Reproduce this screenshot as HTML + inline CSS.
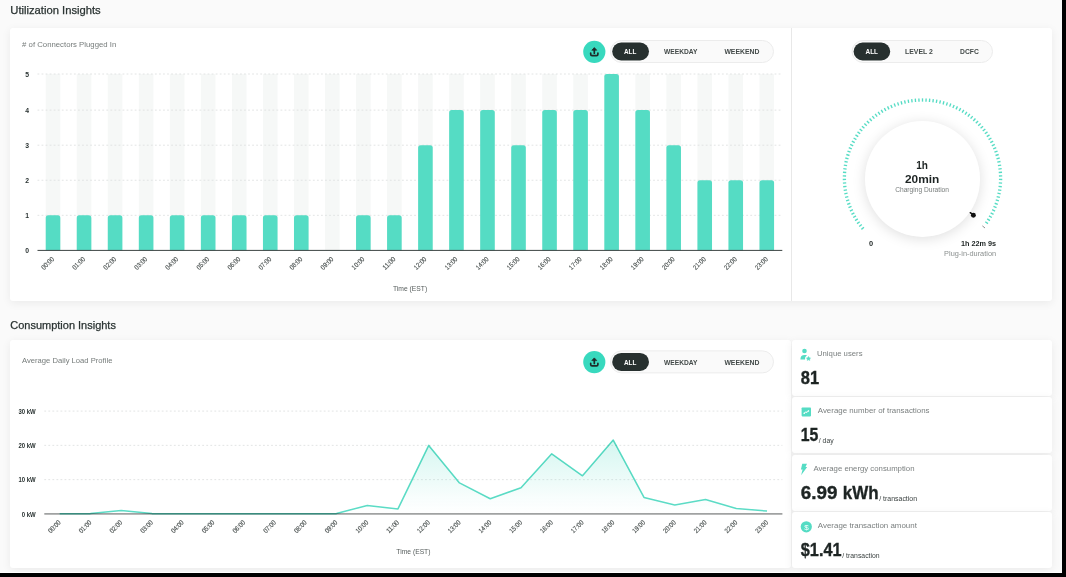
<!DOCTYPE html>
<html><head><meta charset="utf-8"><title>Insights</title>
<style>
html,body{margin:0;padding:0;}
body{width:1066px;height:577px;overflow:hidden;background:#fafafa;position:relative;font-family:"Liberation Sans",sans-serif;}
.card{position:absolute;background:#fff;border-radius:3px;box-shadow:0 2px 10px rgba(0,0,0,0.065);}
.knob{position:absolute;left:864.8px;top:121.3px;width:115.6px;height:115.6px;border-radius:50%;background:#fff;box-shadow:0 2px 13px rgba(0,0,0,0.13);}
svg{position:absolute;left:0;top:0;will-change:transform;}
.bk{position:absolute;background:#000;}
</style></head><body>
<div class="card" style="left:10.3px;top:28.3px;width:1042px;height:272.6px;"></div>
<div class="card" style="left:10.3px;top:339.5px;width:781px;height:228.8px;"></div>
<div class="card" style="left:792.2px;top:339.5px;width:260.2px;height:56.4px;"></div>
<div class="card" style="left:792.2px;top:397.3px;width:260.2px;height:56px;"></div>
<div class="card" style="left:792.2px;top:454.8px;width:260.2px;height:56px;"></div>
<div class="card" style="left:792.2px;top:512.3px;width:260.2px;height:56px;"></div>
<div class="knob"></div>
<svg width="1066" height="577" viewBox="0 0 1066 577" font-family="Liberation Sans, sans-serif">
<defs><linearGradient id="lg" x1="0" y1="440" x2="0" y2="514" gradientUnits="userSpaceOnUse"><stop offset="0" stop-color="#5fdec8" stop-opacity="0.27"/><stop offset="0.75" stop-color="#5fdec8" stop-opacity="0.05"/><stop offset="1" stop-color="#5fdec8" stop-opacity="0"/></linearGradient></defs>
<text x="10.3" y="14" font-size="10.3" fill="#2a3332" font-weight="normal" text-anchor="start" textLength="90.4" lengthAdjust="spacingAndGlyphs" stroke="#2a3332" stroke-width="0.25">Utilization Insights</text>
<text x="10.3" y="329.2" font-size="10.3" fill="#2a3332" font-weight="normal" text-anchor="start" textLength="105.6" lengthAdjust="spacingAndGlyphs" stroke="#2a3332" stroke-width="0.25">Consumption Insights</text>
<text x="22.1" y="47.4" font-size="7" fill="#757b7a" font-weight="normal" text-anchor="start" textLength="94.2" lengthAdjust="spacingAndGlyphs" ># of Connectors Plugged In</text>
<text x="22" y="363.3" font-size="7" fill="#757b7a" font-weight="normal" text-anchor="start" textLength="90.4" lengthAdjust="spacingAndGlyphs" >Average Daily Load Profile</text>
<rect x="610.5" y="40.5" width="163" height="22" rx="11.0" fill="#fafafa" stroke="#ececec" stroke-width="1"/>
<rect x="612.2" y="42.5" width="36.8" height="18" rx="9.0" fill="#27302f"/>
<text x="624" y="54.4" font-size="8" fill="#fff" font-weight="bold" text-anchor="start" textLength="12.4" lengthAdjust="spacingAndGlyphs" >ALL</text>
<text x="664" y="54.4" font-size="8" fill="#434a49" font-weight="bold" text-anchor="start" textLength="33.5" lengthAdjust="spacingAndGlyphs" >WEEKDAY</text>
<text x="724.4" y="54.4" font-size="8" fill="#434a49" font-weight="bold" text-anchor="start" textLength="35.1" lengthAdjust="spacingAndGlyphs" >WEEKEND</text>
<rect x="610.5" y="350.9" width="163" height="22" rx="11.0" fill="#fafafa" stroke="#ececec" stroke-width="1"/>
<rect x="612.2" y="352.9" width="36.8" height="18" rx="9.0" fill="#27302f"/>
<text x="624" y="364.79999999999995" font-size="8" fill="#fff" font-weight="bold" text-anchor="start" textLength="12.4" lengthAdjust="spacingAndGlyphs" >ALL</text>
<text x="664" y="364.79999999999995" font-size="8" fill="#434a49" font-weight="bold" text-anchor="start" textLength="33.5" lengthAdjust="spacingAndGlyphs" >WEEKDAY</text>
<text x="724.4" y="364.79999999999995" font-size="8" fill="#434a49" font-weight="bold" text-anchor="start" textLength="35.1" lengthAdjust="spacingAndGlyphs" >WEEKEND</text>
<rect x="852.0" y="40.5" width="140.5" height="22" rx="11.0" fill="#fafafa" stroke="#ececec" stroke-width="1"/>
<rect x="853.6" y="42.5" width="36.6" height="18" rx="9.0" fill="#27302f"/>
<text x="865.6" y="54.4" font-size="8" fill="#fff" font-weight="bold" text-anchor="start" textLength="12.4" lengthAdjust="spacingAndGlyphs" >ALL</text>
<text x="905" y="54.4" font-size="8" fill="#434a49" font-weight="bold" text-anchor="start" textLength="27.8" lengthAdjust="spacingAndGlyphs" >LEVEL 2</text>
<text x="960" y="54.4" font-size="8" fill="#434a49" font-weight="bold" text-anchor="start" textLength="18.8" lengthAdjust="spacingAndGlyphs" >DCFC</text>
<circle cx="594.3" cy="51.8" r="11.1" fill="#38d9be"/>
<g transform="translate(594.3,51.8)" fill="none" stroke="#1f2a29" stroke-width="1.7" stroke-linecap="round" stroke-linejoin="round"><path d="M-3.6 1.3 V2.4 Q-3.6 3.8 -2.2 3.8 H2.2 Q3.6 3.8 3.6 2.4 V1.3"/><path d="M0 1.4 V-2.2"/><path d="M-2.2 -1.8 L0 -4.2 L2.2 -1.8 Z" fill="#1f2a29" stroke-width="0.8"/></g>
<circle cx="594.3" cy="362.1" r="11.1" fill="#38d9be"/>
<g transform="translate(594.3,362.1)" fill="none" stroke="#1f2a29" stroke-width="1.7" stroke-linecap="round" stroke-linejoin="round"><path d="M-3.6 1.3 V2.4 Q-3.6 3.8 -2.2 3.8 H2.2 Q3.6 3.8 3.6 2.4 V1.3"/><path d="M0 1.4 V-2.2"/><path d="M-2.2 -1.8 L0 -4.2 L2.2 -1.8 Z" fill="#1f2a29" stroke-width="0.8"/></g>
<rect x="45.72" y="74.00" width="14.6" height="176.40" fill="#f6f8f7"/>
<rect x="76.75" y="74.00" width="14.6" height="176.40" fill="#f6f8f7"/>
<rect x="107.78" y="74.00" width="14.6" height="176.40" fill="#f6f8f7"/>
<rect x="138.82" y="74.00" width="14.6" height="176.40" fill="#f6f8f7"/>
<rect x="169.85" y="74.00" width="14.6" height="176.40" fill="#f6f8f7"/>
<rect x="200.88" y="74.00" width="14.6" height="176.40" fill="#f6f8f7"/>
<rect x="231.92" y="74.00" width="14.6" height="176.40" fill="#f6f8f7"/>
<rect x="262.95" y="74.00" width="14.6" height="176.40" fill="#f6f8f7"/>
<rect x="293.98" y="74.00" width="14.6" height="176.40" fill="#f6f8f7"/>
<rect x="325.02" y="74.00" width="14.6" height="176.40" fill="#f6f8f7"/>
<rect x="356.05" y="74.00" width="14.6" height="176.40" fill="#f6f8f7"/>
<rect x="387.08" y="74.00" width="14.6" height="176.40" fill="#f6f8f7"/>
<rect x="418.12" y="74.00" width="14.6" height="176.40" fill="#f6f8f7"/>
<rect x="449.15" y="74.00" width="14.6" height="176.40" fill="#f6f8f7"/>
<rect x="480.18" y="74.00" width="14.6" height="176.40" fill="#f6f8f7"/>
<rect x="511.22" y="74.00" width="14.6" height="176.40" fill="#f6f8f7"/>
<rect x="542.25" y="74.00" width="14.6" height="176.40" fill="#f6f8f7"/>
<rect x="573.28" y="74.00" width="14.6" height="176.40" fill="#f6f8f7"/>
<rect x="604.32" y="74.00" width="14.6" height="176.40" fill="#f6f8f7"/>
<rect x="635.35" y="74.00" width="14.6" height="176.40" fill="#f6f8f7"/>
<rect x="666.38" y="74.00" width="14.6" height="176.40" fill="#f6f8f7"/>
<rect x="697.42" y="74.00" width="14.6" height="176.40" fill="#f6f8f7"/>
<rect x="728.45" y="74.00" width="14.6" height="176.40" fill="#f6f8f7"/>
<rect x="759.48" y="74.00" width="14.6" height="176.40" fill="#f6f8f7"/>
<line x1="37.5" x2="782.3" y1="215.33" y2="215.33" stroke="#dfe1e1" stroke-width="0.9" stroke-dasharray="1.8 2.25"/>
<line x1="37.5" x2="782.3" y1="180.26" y2="180.26" stroke="#dfe1e1" stroke-width="0.9" stroke-dasharray="1.8 2.25"/>
<line x1="37.5" x2="782.3" y1="145.19" y2="145.19" stroke="#dfe1e1" stroke-width="0.9" stroke-dasharray="1.8 2.25"/>
<line x1="37.5" x2="782.3" y1="110.12" y2="110.12" stroke="#dfe1e1" stroke-width="0.9" stroke-dasharray="1.8 2.25"/>
<line x1="37.5" x2="782.3" y1="74.00" y2="74.00" stroke="#dfe1e1" stroke-width="0.9" stroke-dasharray="1.8 2.25"/>
<path d="M45.72 250.4 V217.93 Q45.72 215.33 48.32 215.33 H57.72 Q60.32 215.33 60.32 217.93 V250.4 Z" fill="#55dcc4"/>
<path d="M76.75 250.4 V217.93 Q76.75 215.33 79.35 215.33 H88.75 Q91.35 215.33 91.35 217.93 V250.4 Z" fill="#55dcc4"/>
<path d="M107.78 250.4 V217.93 Q107.78 215.33 110.38 215.33 H119.78 Q122.38 215.33 122.38 217.93 V250.4 Z" fill="#55dcc4"/>
<path d="M138.82 250.4 V217.93 Q138.82 215.33 141.42 215.33 H150.82 Q153.42 215.33 153.42 217.93 V250.4 Z" fill="#55dcc4"/>
<path d="M169.85 250.4 V217.93 Q169.85 215.33 172.45 215.33 H181.85 Q184.45 215.33 184.45 217.93 V250.4 Z" fill="#55dcc4"/>
<path d="M200.88 250.4 V217.93 Q200.88 215.33 203.48 215.33 H212.88 Q215.48 215.33 215.48 217.93 V250.4 Z" fill="#55dcc4"/>
<path d="M231.92 250.4 V217.93 Q231.92 215.33 234.52 215.33 H243.92 Q246.52 215.33 246.52 217.93 V250.4 Z" fill="#55dcc4"/>
<path d="M262.95 250.4 V217.93 Q262.95 215.33 265.55 215.33 H274.95 Q277.55 215.33 277.55 217.93 V250.4 Z" fill="#55dcc4"/>
<path d="M293.98 250.4 V217.93 Q293.98 215.33 296.58 215.33 H305.98 Q308.58 215.33 308.58 217.93 V250.4 Z" fill="#55dcc4"/>
<path d="M356.05 250.4 V217.93 Q356.05 215.33 358.65 215.33 H368.05 Q370.65 215.33 370.65 217.93 V250.4 Z" fill="#55dcc4"/>
<path d="M387.08 250.4 V217.93 Q387.08 215.33 389.68 215.33 H399.08 Q401.68 215.33 401.68 217.93 V250.4 Z" fill="#55dcc4"/>
<path d="M418.12 250.4 V147.79 Q418.12 145.19 420.72 145.19 H430.12 Q432.72 145.19 432.72 147.79 V250.4 Z" fill="#55dcc4"/>
<path d="M449.15 250.4 V112.72 Q449.15 110.12 451.75 110.12 H461.15 Q463.75 110.12 463.75 112.72 V250.4 Z" fill="#55dcc4"/>
<path d="M480.18 250.4 V112.72 Q480.18 110.12 482.78 110.12 H492.18 Q494.78 110.12 494.78 112.72 V250.4 Z" fill="#55dcc4"/>
<path d="M511.22 250.4 V147.79 Q511.22 145.19 513.82 145.19 H523.22 Q525.82 145.19 525.82 147.79 V250.4 Z" fill="#55dcc4"/>
<path d="M542.25 250.4 V112.72 Q542.25 110.12 544.85 110.12 H554.25 Q556.85 110.12 556.85 112.72 V250.4 Z" fill="#55dcc4"/>
<path d="M573.28 250.4 V112.72 Q573.28 110.12 575.88 110.12 H585.28 Q587.88 110.12 587.88 112.72 V250.4 Z" fill="#55dcc4"/>
<path d="M604.32 250.4 V76.60 Q604.32 74.00 606.92 74.00 H616.32 Q618.92 74.00 618.92 76.60 V250.4 Z" fill="#55dcc4"/>
<path d="M635.35 250.4 V112.72 Q635.35 110.12 637.95 110.12 H647.35 Q649.95 110.12 649.95 112.72 V250.4 Z" fill="#55dcc4"/>
<path d="M666.38 250.4 V147.79 Q666.38 145.19 668.98 145.19 H678.38 Q680.98 145.19 680.98 147.79 V250.4 Z" fill="#55dcc4"/>
<path d="M697.42 250.4 V182.86 Q697.42 180.26 700.02 180.26 H709.42 Q712.02 180.26 712.02 182.86 V250.4 Z" fill="#55dcc4"/>
<path d="M728.45 250.4 V182.86 Q728.45 180.26 731.05 180.26 H740.45 Q743.05 180.26 743.05 182.86 V250.4 Z" fill="#55dcc4"/>
<path d="M759.48 250.4 V182.86 Q759.48 180.26 762.08 180.26 H771.48 Q774.08 180.26 774.08 182.86 V250.4 Z" fill="#55dcc4"/>
<line x1="37.5" x2="782.3" y1="250.4" y2="250.4" stroke="#3c4443" stroke-width="1"/>
<text x="25.2" y="253.0" font-size="6.8" fill="#2a3332" font-weight="bold" text-anchor="start" >0</text>
<text x="25.2" y="217.93" font-size="6.8" fill="#2a3332" font-weight="bold" text-anchor="start" >1</text>
<text x="25.2" y="182.86" font-size="6.8" fill="#2a3332" font-weight="bold" text-anchor="start" >2</text>
<text x="25.2" y="147.79" font-size="6.8" fill="#2a3332" font-weight="bold" text-anchor="start" >3</text>
<text x="25.2" y="112.72" font-size="6.8" fill="#2a3332" font-weight="bold" text-anchor="start" >4</text>
<text x="25.2" y="77.4" font-size="6.8" fill="#2a3332" font-weight="bold" text-anchor="start" >5</text>
<text transform="translate(54.52,259.6) rotate(-45)" font-size="6.8" fill="#4a5150" stroke="#4a5150" stroke-width="0.15" text-anchor="end" textLength="14.9" lengthAdjust="spacingAndGlyphs">00:00</text>
<text transform="translate(85.55,259.6) rotate(-45)" font-size="6.8" fill="#4a5150" stroke="#4a5150" stroke-width="0.15" text-anchor="end" textLength="14.9" lengthAdjust="spacingAndGlyphs">01:00</text>
<text transform="translate(116.58,259.6) rotate(-45)" font-size="6.8" fill="#4a5150" stroke="#4a5150" stroke-width="0.15" text-anchor="end" textLength="14.9" lengthAdjust="spacingAndGlyphs">02:00</text>
<text transform="translate(147.62,259.6) rotate(-45)" font-size="6.8" fill="#4a5150" stroke="#4a5150" stroke-width="0.15" text-anchor="end" textLength="14.9" lengthAdjust="spacingAndGlyphs">03:00</text>
<text transform="translate(178.65,259.6) rotate(-45)" font-size="6.8" fill="#4a5150" stroke="#4a5150" stroke-width="0.15" text-anchor="end" textLength="14.9" lengthAdjust="spacingAndGlyphs">04:00</text>
<text transform="translate(209.68,259.6) rotate(-45)" font-size="6.8" fill="#4a5150" stroke="#4a5150" stroke-width="0.15" text-anchor="end" textLength="14.9" lengthAdjust="spacingAndGlyphs">05:00</text>
<text transform="translate(240.72,259.6) rotate(-45)" font-size="6.8" fill="#4a5150" stroke="#4a5150" stroke-width="0.15" text-anchor="end" textLength="14.9" lengthAdjust="spacingAndGlyphs">06:00</text>
<text transform="translate(271.75,259.6) rotate(-45)" font-size="6.8" fill="#4a5150" stroke="#4a5150" stroke-width="0.15" text-anchor="end" textLength="14.9" lengthAdjust="spacingAndGlyphs">07:00</text>
<text transform="translate(302.78,259.6) rotate(-45)" font-size="6.8" fill="#4a5150" stroke="#4a5150" stroke-width="0.15" text-anchor="end" textLength="14.9" lengthAdjust="spacingAndGlyphs">08:00</text>
<text transform="translate(333.82,259.6) rotate(-45)" font-size="6.8" fill="#4a5150" stroke="#4a5150" stroke-width="0.15" text-anchor="end" textLength="14.9" lengthAdjust="spacingAndGlyphs">09:00</text>
<text transform="translate(364.85,259.6) rotate(-45)" font-size="6.8" fill="#4a5150" stroke="#4a5150" stroke-width="0.15" text-anchor="end" textLength="14.9" lengthAdjust="spacingAndGlyphs">10:00</text>
<text transform="translate(395.88,259.6) rotate(-45)" font-size="6.8" fill="#4a5150" stroke="#4a5150" stroke-width="0.15" text-anchor="end" textLength="14.9" lengthAdjust="spacingAndGlyphs">11:00</text>
<text transform="translate(426.92,259.6) rotate(-45)" font-size="6.8" fill="#4a5150" stroke="#4a5150" stroke-width="0.15" text-anchor="end" textLength="14.9" lengthAdjust="spacingAndGlyphs">12:00</text>
<text transform="translate(457.95,259.6) rotate(-45)" font-size="6.8" fill="#4a5150" stroke="#4a5150" stroke-width="0.15" text-anchor="end" textLength="14.9" lengthAdjust="spacingAndGlyphs">13:00</text>
<text transform="translate(488.98,259.6) rotate(-45)" font-size="6.8" fill="#4a5150" stroke="#4a5150" stroke-width="0.15" text-anchor="end" textLength="14.9" lengthAdjust="spacingAndGlyphs">14:00</text>
<text transform="translate(520.02,259.6) rotate(-45)" font-size="6.8" fill="#4a5150" stroke="#4a5150" stroke-width="0.15" text-anchor="end" textLength="14.9" lengthAdjust="spacingAndGlyphs">15:00</text>
<text transform="translate(551.05,259.6) rotate(-45)" font-size="6.8" fill="#4a5150" stroke="#4a5150" stroke-width="0.15" text-anchor="end" textLength="14.9" lengthAdjust="spacingAndGlyphs">16:00</text>
<text transform="translate(582.08,259.6) rotate(-45)" font-size="6.8" fill="#4a5150" stroke="#4a5150" stroke-width="0.15" text-anchor="end" textLength="14.9" lengthAdjust="spacingAndGlyphs">17:00</text>
<text transform="translate(613.12,259.6) rotate(-45)" font-size="6.8" fill="#4a5150" stroke="#4a5150" stroke-width="0.15" text-anchor="end" textLength="14.9" lengthAdjust="spacingAndGlyphs">18:00</text>
<text transform="translate(644.15,259.6) rotate(-45)" font-size="6.8" fill="#4a5150" stroke="#4a5150" stroke-width="0.15" text-anchor="end" textLength="14.9" lengthAdjust="spacingAndGlyphs">19:00</text>
<text transform="translate(675.18,259.6) rotate(-45)" font-size="6.8" fill="#4a5150" stroke="#4a5150" stroke-width="0.15" text-anchor="end" textLength="14.9" lengthAdjust="spacingAndGlyphs">20:00</text>
<text transform="translate(706.22,259.6) rotate(-45)" font-size="6.8" fill="#4a5150" stroke="#4a5150" stroke-width="0.15" text-anchor="end" textLength="14.9" lengthAdjust="spacingAndGlyphs">21:00</text>
<text transform="translate(737.25,259.6) rotate(-45)" font-size="6.8" fill="#4a5150" stroke="#4a5150" stroke-width="0.15" text-anchor="end" textLength="14.9" lengthAdjust="spacingAndGlyphs">22:00</text>
<text transform="translate(768.28,259.6) rotate(-45)" font-size="6.8" fill="#4a5150" stroke="#4a5150" stroke-width="0.15" text-anchor="end" textLength="14.9" lengthAdjust="spacingAndGlyphs">23:00</text>
<text x="393" y="290.5" font-size="7" fill="#565d5c" font-weight="normal" text-anchor="start" textLength="34.2" lengthAdjust="spacingAndGlyphs" >Time (EST)</text>
<line x1="791.5" x2="791.5" y1="28" y2="301" stroke="#e8e8e8" stroke-width="1"/>
<line x1="863.94" y1="227.24" x2="861.41" y2="229.36" stroke="#55dcc4" stroke-width="1.35"/>
<line x1="861.77" y1="224.53" x2="859.15" y2="226.54" stroke="#55dcc4" stroke-width="1.35"/>
<line x1="859.72" y1="221.73" x2="857.01" y2="223.61" stroke="#55dcc4" stroke-width="1.35"/>
<line x1="857.81" y1="218.84" x2="855.02" y2="220.60" stroke="#55dcc4" stroke-width="1.35"/>
<line x1="856.03" y1="215.86" x2="853.16" y2="217.49" stroke="#55dcc4" stroke-width="1.35"/>
<line x1="854.38" y1="212.81" x2="851.44" y2="214.31" stroke="#55dcc4" stroke-width="1.35"/>
<line x1="852.88" y1="209.68" x2="849.87" y2="211.05" stroke="#55dcc4" stroke-width="1.35"/>
<line x1="851.52" y1="206.49" x2="848.45" y2="207.72" stroke="#55dcc4" stroke-width="1.35"/>
<line x1="850.30" y1="203.24" x2="847.19" y2="204.33" stroke="#55dcc4" stroke-width="1.35"/>
<line x1="849.24" y1="199.94" x2="846.07" y2="200.88" stroke="#55dcc4" stroke-width="1.35"/>
<line x1="848.32" y1="196.59" x2="845.12" y2="197.39" stroke="#55dcc4" stroke-width="1.35"/>
<line x1="847.56" y1="193.21" x2="844.32" y2="193.86" stroke="#55dcc4" stroke-width="1.35"/>
<line x1="846.95" y1="189.80" x2="843.69" y2="190.30" stroke="#55dcc4" stroke-width="1.35"/>
<line x1="846.50" y1="186.36" x2="843.22" y2="186.71" stroke="#55dcc4" stroke-width="1.35"/>
<line x1="846.20" y1="182.90" x2="842.91" y2="183.11" stroke="#55dcc4" stroke-width="1.35"/>
<line x1="846.06" y1="179.43" x2="842.76" y2="179.49" stroke="#55dcc4" stroke-width="1.35"/>
<line x1="846.08" y1="175.97" x2="842.78" y2="175.87" stroke="#55dcc4" stroke-width="1.35"/>
<line x1="846.26" y1="172.50" x2="842.96" y2="172.26" stroke="#55dcc4" stroke-width="1.35"/>
<line x1="846.59" y1="169.05" x2="843.31" y2="168.66" stroke="#55dcc4" stroke-width="1.35"/>
<line x1="847.08" y1="165.61" x2="843.82" y2="165.07" stroke="#55dcc4" stroke-width="1.35"/>
<line x1="847.72" y1="162.21" x2="844.49" y2="161.52" stroke="#55dcc4" stroke-width="1.35"/>
<line x1="848.52" y1="158.83" x2="845.33" y2="158.00" stroke="#55dcc4" stroke-width="1.35"/>
<line x1="849.47" y1="155.49" x2="846.32" y2="154.52" stroke="#55dcc4" stroke-width="1.35"/>
<line x1="850.57" y1="152.20" x2="847.46" y2="151.09" stroke="#55dcc4" stroke-width="1.35"/>
<line x1="851.82" y1="148.97" x2="848.77" y2="147.71" stroke="#55dcc4" stroke-width="1.35"/>
<line x1="853.21" y1="145.79" x2="850.22" y2="144.40" stroke="#55dcc4" stroke-width="1.35"/>
<line x1="854.75" y1="142.68" x2="851.83" y2="141.15" stroke="#55dcc4" stroke-width="1.35"/>
<line x1="856.43" y1="139.64" x2="853.57" y2="137.98" stroke="#55dcc4" stroke-width="1.35"/>
<line x1="858.24" y1="136.69" x2="855.46" y2="134.90" stroke="#55dcc4" stroke-width="1.35"/>
<line x1="860.18" y1="133.81" x2="857.49" y2="131.90" stroke="#55dcc4" stroke-width="1.35"/>
<line x1="862.26" y1="131.03" x2="859.66" y2="129.00" stroke="#55dcc4" stroke-width="1.35"/>
<line x1="864.45" y1="128.35" x2="861.95" y2="126.20" stroke="#55dcc4" stroke-width="1.35"/>
<line x1="866.77" y1="125.77" x2="864.36" y2="123.51" stroke="#55dcc4" stroke-width="1.35"/>
<line x1="869.20" y1="123.29" x2="866.90" y2="120.93" stroke="#55dcc4" stroke-width="1.35"/>
<line x1="871.74" y1="120.93" x2="869.55" y2="118.46" stroke="#55dcc4" stroke-width="1.35"/>
<line x1="874.39" y1="118.69" x2="872.31" y2="116.12" stroke="#55dcc4" stroke-width="1.35"/>
<line x1="877.13" y1="116.57" x2="875.17" y2="113.91" stroke="#55dcc4" stroke-width="1.35"/>
<line x1="879.97" y1="114.57" x2="878.14" y2="111.83" stroke="#55dcc4" stroke-width="1.35"/>
<line x1="882.90" y1="112.71" x2="881.19" y2="109.88" stroke="#55dcc4" stroke-width="1.35"/>
<line x1="885.90" y1="110.98" x2="884.32" y2="108.08" stroke="#55dcc4" stroke-width="1.35"/>
<line x1="888.99" y1="109.39" x2="887.54" y2="106.42" stroke="#55dcc4" stroke-width="1.35"/>
<line x1="892.14" y1="107.94" x2="890.83" y2="104.91" stroke="#55dcc4" stroke-width="1.35"/>
<line x1="895.35" y1="106.63" x2="894.18" y2="103.55" stroke="#55dcc4" stroke-width="1.35"/>
<line x1="898.62" y1="105.47" x2="897.59" y2="102.34" stroke="#55dcc4" stroke-width="1.35"/>
<line x1="901.94" y1="104.47" x2="901.05" y2="101.29" stroke="#55dcc4" stroke-width="1.35"/>
<line x1="905.30" y1="103.61" x2="904.56" y2="100.39" stroke="#55dcc4" stroke-width="1.35"/>
<line x1="908.70" y1="102.91" x2="908.10" y2="99.66" stroke="#55dcc4" stroke-width="1.35"/>
<line x1="912.12" y1="102.36" x2="911.68" y2="99.09" stroke="#55dcc4" stroke-width="1.35"/>
<line x1="915.57" y1="101.96" x2="915.27" y2="98.68" stroke="#55dcc4" stroke-width="1.35"/>
<line x1="919.03" y1="101.73" x2="918.88" y2="98.43" stroke="#55dcc4" stroke-width="1.35"/>
<line x1="922.50" y1="101.65" x2="922.50" y2="98.35" stroke="#55dcc4" stroke-width="1.35"/>
<line x1="925.97" y1="101.73" x2="926.12" y2="98.43" stroke="#55dcc4" stroke-width="1.35"/>
<line x1="929.43" y1="101.96" x2="929.73" y2="98.68" stroke="#55dcc4" stroke-width="1.35"/>
<line x1="932.88" y1="102.36" x2="933.32" y2="99.09" stroke="#55dcc4" stroke-width="1.35"/>
<line x1="936.30" y1="102.91" x2="936.90" y2="99.66" stroke="#55dcc4" stroke-width="1.35"/>
<line x1="939.70" y1="103.61" x2="940.44" y2="100.39" stroke="#55dcc4" stroke-width="1.35"/>
<line x1="943.06" y1="104.47" x2="943.95" y2="101.29" stroke="#55dcc4" stroke-width="1.35"/>
<line x1="946.38" y1="105.47" x2="947.41" y2="102.34" stroke="#55dcc4" stroke-width="1.35"/>
<line x1="949.65" y1="106.63" x2="950.82" y2="103.55" stroke="#55dcc4" stroke-width="1.35"/>
<line x1="952.86" y1="107.94" x2="954.17" y2="104.91" stroke="#55dcc4" stroke-width="1.35"/>
<line x1="956.01" y1="109.39" x2="957.46" y2="106.42" stroke="#55dcc4" stroke-width="1.35"/>
<line x1="959.10" y1="110.98" x2="960.68" y2="108.08" stroke="#55dcc4" stroke-width="1.35"/>
<line x1="962.10" y1="112.71" x2="963.81" y2="109.88" stroke="#55dcc4" stroke-width="1.35"/>
<line x1="965.03" y1="114.57" x2="966.86" y2="111.83" stroke="#55dcc4" stroke-width="1.35"/>
<line x1="967.87" y1="116.57" x2="969.83" y2="113.91" stroke="#55dcc4" stroke-width="1.35"/>
<line x1="970.61" y1="118.69" x2="972.69" y2="116.12" stroke="#55dcc4" stroke-width="1.35"/>
<line x1="973.26" y1="120.93" x2="975.45" y2="118.46" stroke="#55dcc4" stroke-width="1.35"/>
<line x1="975.80" y1="123.29" x2="978.10" y2="120.93" stroke="#55dcc4" stroke-width="1.35"/>
<line x1="978.23" y1="125.77" x2="980.64" y2="123.51" stroke="#55dcc4" stroke-width="1.35"/>
<line x1="980.55" y1="128.35" x2="983.05" y2="126.20" stroke="#55dcc4" stroke-width="1.35"/>
<line x1="982.74" y1="131.03" x2="985.34" y2="129.00" stroke="#55dcc4" stroke-width="1.35"/>
<line x1="984.82" y1="133.81" x2="987.51" y2="131.90" stroke="#55dcc4" stroke-width="1.35"/>
<line x1="986.76" y1="136.69" x2="989.54" y2="134.90" stroke="#55dcc4" stroke-width="1.35"/>
<line x1="988.57" y1="139.64" x2="991.43" y2="137.98" stroke="#55dcc4" stroke-width="1.35"/>
<line x1="990.25" y1="142.68" x2="993.17" y2="141.15" stroke="#55dcc4" stroke-width="1.35"/>
<line x1="991.79" y1="145.79" x2="994.78" y2="144.40" stroke="#55dcc4" stroke-width="1.35"/>
<line x1="993.18" y1="148.97" x2="996.23" y2="147.71" stroke="#55dcc4" stroke-width="1.35"/>
<line x1="994.43" y1="152.20" x2="997.54" y2="151.09" stroke="#55dcc4" stroke-width="1.35"/>
<line x1="995.53" y1="155.49" x2="998.68" y2="154.52" stroke="#55dcc4" stroke-width="1.35"/>
<line x1="996.48" y1="158.83" x2="999.67" y2="158.00" stroke="#55dcc4" stroke-width="1.35"/>
<line x1="997.28" y1="162.21" x2="1000.51" y2="161.52" stroke="#55dcc4" stroke-width="1.35"/>
<line x1="997.92" y1="165.61" x2="1001.18" y2="165.07" stroke="#55dcc4" stroke-width="1.35"/>
<line x1="998.41" y1="169.05" x2="1001.69" y2="168.66" stroke="#55dcc4" stroke-width="1.35"/>
<line x1="998.74" y1="172.50" x2="1002.04" y2="172.26" stroke="#55dcc4" stroke-width="1.35"/>
<line x1="998.92" y1="175.97" x2="1002.22" y2="175.87" stroke="#55dcc4" stroke-width="1.35"/>
<line x1="998.94" y1="179.43" x2="1002.24" y2="179.49" stroke="#55dcc4" stroke-width="1.35"/>
<line x1="998.80" y1="182.90" x2="1002.09" y2="183.11" stroke="#55dcc4" stroke-width="1.35"/>
<line x1="998.50" y1="186.36" x2="1001.78" y2="186.71" stroke="#55dcc4" stroke-width="1.35"/>
<line x1="998.05" y1="189.80" x2="1001.31" y2="190.30" stroke="#55dcc4" stroke-width="1.35"/>
<line x1="997.44" y1="193.21" x2="1000.68" y2="193.86" stroke="#55dcc4" stroke-width="1.35"/>
<line x1="996.68" y1="196.59" x2="999.88" y2="197.39" stroke="#55dcc4" stroke-width="1.35"/>
<line x1="995.76" y1="199.94" x2="998.93" y2="200.88" stroke="#55dcc4" stroke-width="1.35"/>
<line x1="994.70" y1="203.24" x2="997.81" y2="204.33" stroke="#55dcc4" stroke-width="1.35"/>
<line x1="993.48" y1="206.49" x2="996.55" y2="207.72" stroke="#55dcc4" stroke-width="1.35"/>
<line x1="992.12" y1="209.68" x2="995.13" y2="211.05" stroke="#55dcc4" stroke-width="1.35"/>
<line x1="990.62" y1="212.81" x2="993.56" y2="214.31" stroke="#55dcc4" stroke-width="1.35"/>
<line x1="988.97" y1="215.86" x2="991.84" y2="217.49" stroke="#55dcc4" stroke-width="1.35"/>
<line x1="987.19" y1="218.84" x2="989.98" y2="220.60" stroke="#55dcc4" stroke-width="1.35"/>
<line x1="985.28" y1="221.73" x2="987.99" y2="223.61" stroke="#55dcc4" stroke-width="1.35"/>
<line x1="982.36" y1="225.89" x2="985.02" y2="228.01" stroke="#6d7372" stroke-width="0.8"/>
<circle cx="973.4" cy="215.2" r="2.45" fill="#111"/>
<line x1="973.4" y1="215.2" x2="970.3" y2="212.7" stroke="#111" stroke-width="1.5" stroke-linecap="round"/>
<text x="922.1" y="168.9" font-size="11.3" fill="#1d2423" font-weight="bold" text-anchor="middle" textLength="11.7" lengthAdjust="spacingAndGlyphs" >1h</text>
<text x="922.1" y="183.1" font-size="11.3" fill="#1d2423" font-weight="bold" text-anchor="middle" textLength="34.3" lengthAdjust="spacingAndGlyphs" >20min</text>
<text x="922.1" y="191.5" font-size="6.4" fill="#777c7b" font-weight="normal" text-anchor="middle" textLength="53.8" lengthAdjust="spacingAndGlyphs" >Charging Duration</text>
<text x="868.9" y="246.2" font-size="7.4" fill="#1d2423" font-weight="bold" text-anchor="start" >0</text>
<text x="961" y="246.2" font-size="7" fill="#1d2423" font-weight="bold" text-anchor="start" textLength="35.1" lengthAdjust="spacingAndGlyphs" >1h 22m 9s</text>
<text x="944.1" y="256" font-size="6.6" fill="#8a8f8e" font-weight="normal" text-anchor="start" textLength="52" lengthAdjust="spacingAndGlyphs" >Plug-in-duration</text>
<line x1="44.3" x2="782.4" y1="479.63" y2="479.63" stroke="#dfe1e1" stroke-width="0.9" stroke-dasharray="1.8 2.25"/>
<line x1="44.3" x2="782.4" y1="445.36" y2="445.36" stroke="#dfe1e1" stroke-width="0.9" stroke-dasharray="1.8 2.25"/>
<line x1="44.3" x2="782.4" y1="411.09" y2="411.09" stroke="#dfe1e1" stroke-width="0.9" stroke-dasharray="1.8 2.25"/>
<path d="M59.68 513.70 L90.43 513.60 L121.19 510.50 L151.94 513.60 L182.69 513.70 L213.45 513.70 L244.20 513.70 L274.96 513.70 L305.71 513.70 L336.46 513.60 L367.22 505.40 L397.97 508.90 L428.73 445.40 L459.48 482.90 L490.24 498.80 L520.99 487.70 L551.74 453.80 L582.50 475.80 L613.25 440.10 L644.01 497.40 L674.76 504.90 L705.51 499.60 L736.27 508.50 L767.02 511.10 L767.02 513.9 L59.68 513.9 Z" fill="url(#lg)"/>
<line x1="44.3" x2="782.4" y1="513.9" y2="513.9" stroke="#a0a2a2" stroke-width="1.9"/>
<path d="M59.68 513.70 L90.43 513.60 L121.19 510.50 L151.94 513.60 L182.69 513.70 L213.45 513.70 L244.20 513.70 L274.96 513.70 L305.71 513.70 L336.46 513.60 L367.22 505.40 L397.97 508.90 L428.73 445.40 L459.48 482.90 L490.24 498.80 L520.99 487.70 L551.74 453.80 L582.50 475.80 L613.25 440.10 L644.01 497.40 L674.76 504.90 L705.51 499.60 L736.27 508.50 L767.02 511.10" fill="none" stroke="#5cdcc6" stroke-width="1.55" stroke-linejoin="round" style="mix-blend-mode:multiply"/>
<text x="35.7" y="516.7" font-size="6.5" fill="#2a3332" font-weight="bold" text-anchor="end" textLength="14.0" lengthAdjust="spacingAndGlyphs" >0 kW</text>
<text x="35.7" y="482.43" font-size="6.5" fill="#2a3332" font-weight="bold" text-anchor="end" textLength="17.3" lengthAdjust="spacingAndGlyphs" >10 kW</text>
<text x="35.7" y="448.16" font-size="6.5" fill="#2a3332" font-weight="bold" text-anchor="end" textLength="17.3" lengthAdjust="spacingAndGlyphs" >20 kW</text>
<text x="35.7" y="413.89" font-size="6.5" fill="#2a3332" font-weight="bold" text-anchor="end" textLength="17.3" lengthAdjust="spacingAndGlyphs" >30 kW</text>
<text transform="translate(61.18,523.0) rotate(-45)" font-size="6.8" fill="#4a5150" stroke="#4a5150" stroke-width="0.15" text-anchor="end" textLength="14.9" lengthAdjust="spacingAndGlyphs">00:00</text>
<text transform="translate(91.93,523.0) rotate(-45)" font-size="6.8" fill="#4a5150" stroke="#4a5150" stroke-width="0.15" text-anchor="end" textLength="14.9" lengthAdjust="spacingAndGlyphs">01:00</text>
<text transform="translate(122.69,523.0) rotate(-45)" font-size="6.8" fill="#4a5150" stroke="#4a5150" stroke-width="0.15" text-anchor="end" textLength="14.9" lengthAdjust="spacingAndGlyphs">02:00</text>
<text transform="translate(153.44,523.0) rotate(-45)" font-size="6.8" fill="#4a5150" stroke="#4a5150" stroke-width="0.15" text-anchor="end" textLength="14.9" lengthAdjust="spacingAndGlyphs">03:00</text>
<text transform="translate(184.19,523.0) rotate(-45)" font-size="6.8" fill="#4a5150" stroke="#4a5150" stroke-width="0.15" text-anchor="end" textLength="14.9" lengthAdjust="spacingAndGlyphs">04:00</text>
<text transform="translate(214.95,523.0) rotate(-45)" font-size="6.8" fill="#4a5150" stroke="#4a5150" stroke-width="0.15" text-anchor="end" textLength="14.9" lengthAdjust="spacingAndGlyphs">05:00</text>
<text transform="translate(245.70,523.0) rotate(-45)" font-size="6.8" fill="#4a5150" stroke="#4a5150" stroke-width="0.15" text-anchor="end" textLength="14.9" lengthAdjust="spacingAndGlyphs">06:00</text>
<text transform="translate(276.46,523.0) rotate(-45)" font-size="6.8" fill="#4a5150" stroke="#4a5150" stroke-width="0.15" text-anchor="end" textLength="14.9" lengthAdjust="spacingAndGlyphs">07:00</text>
<text transform="translate(307.21,523.0) rotate(-45)" font-size="6.8" fill="#4a5150" stroke="#4a5150" stroke-width="0.15" text-anchor="end" textLength="14.9" lengthAdjust="spacingAndGlyphs">08:00</text>
<text transform="translate(337.96,523.0) rotate(-45)" font-size="6.8" fill="#4a5150" stroke="#4a5150" stroke-width="0.15" text-anchor="end" textLength="14.9" lengthAdjust="spacingAndGlyphs">09:00</text>
<text transform="translate(368.72,523.0) rotate(-45)" font-size="6.8" fill="#4a5150" stroke="#4a5150" stroke-width="0.15" text-anchor="end" textLength="14.9" lengthAdjust="spacingAndGlyphs">10:00</text>
<text transform="translate(399.47,523.0) rotate(-45)" font-size="6.8" fill="#4a5150" stroke="#4a5150" stroke-width="0.15" text-anchor="end" textLength="14.9" lengthAdjust="spacingAndGlyphs">11:00</text>
<text transform="translate(430.23,523.0) rotate(-45)" font-size="6.8" fill="#4a5150" stroke="#4a5150" stroke-width="0.15" text-anchor="end" textLength="14.9" lengthAdjust="spacingAndGlyphs">12:00</text>
<text transform="translate(460.98,523.0) rotate(-45)" font-size="6.8" fill="#4a5150" stroke="#4a5150" stroke-width="0.15" text-anchor="end" textLength="14.9" lengthAdjust="spacingAndGlyphs">13:00</text>
<text transform="translate(491.74,523.0) rotate(-45)" font-size="6.8" fill="#4a5150" stroke="#4a5150" stroke-width="0.15" text-anchor="end" textLength="14.9" lengthAdjust="spacingAndGlyphs">14:00</text>
<text transform="translate(522.49,523.0) rotate(-45)" font-size="6.8" fill="#4a5150" stroke="#4a5150" stroke-width="0.15" text-anchor="end" textLength="14.9" lengthAdjust="spacingAndGlyphs">15:00</text>
<text transform="translate(553.24,523.0) rotate(-45)" font-size="6.8" fill="#4a5150" stroke="#4a5150" stroke-width="0.15" text-anchor="end" textLength="14.9" lengthAdjust="spacingAndGlyphs">16:00</text>
<text transform="translate(584.00,523.0) rotate(-45)" font-size="6.8" fill="#4a5150" stroke="#4a5150" stroke-width="0.15" text-anchor="end" textLength="14.9" lengthAdjust="spacingAndGlyphs">17:00</text>
<text transform="translate(614.75,523.0) rotate(-45)" font-size="6.8" fill="#4a5150" stroke="#4a5150" stroke-width="0.15" text-anchor="end" textLength="14.9" lengthAdjust="spacingAndGlyphs">18:00</text>
<text transform="translate(645.51,523.0) rotate(-45)" font-size="6.8" fill="#4a5150" stroke="#4a5150" stroke-width="0.15" text-anchor="end" textLength="14.9" lengthAdjust="spacingAndGlyphs">19:00</text>
<text transform="translate(676.26,523.0) rotate(-45)" font-size="6.8" fill="#4a5150" stroke="#4a5150" stroke-width="0.15" text-anchor="end" textLength="14.9" lengthAdjust="spacingAndGlyphs">20:00</text>
<text transform="translate(707.01,523.0) rotate(-45)" font-size="6.8" fill="#4a5150" stroke="#4a5150" stroke-width="0.15" text-anchor="end" textLength="14.9" lengthAdjust="spacingAndGlyphs">21:00</text>
<text transform="translate(737.77,523.0) rotate(-45)" font-size="6.8" fill="#4a5150" stroke="#4a5150" stroke-width="0.15" text-anchor="end" textLength="14.9" lengthAdjust="spacingAndGlyphs">22:00</text>
<text transform="translate(768.52,523.0) rotate(-45)" font-size="6.8" fill="#4a5150" stroke="#4a5150" stroke-width="0.15" text-anchor="end" textLength="14.9" lengthAdjust="spacingAndGlyphs">23:00</text>
<text x="396.3" y="554.1" font-size="7" fill="#565d5c" font-weight="normal" text-anchor="start" textLength="34.2" lengthAdjust="spacingAndGlyphs" >Time (EST)</text>
<text x="817" y="355.8" font-size="7.7" fill="#7a7f7f" font-weight="normal" text-anchor="start" textLength="45.5" lengthAdjust="spacingAndGlyphs" >Unique users</text>
<text x="800.8" y="383.90000000000003" font-size="17.6" fill="#1d2423" font-weight="bold" text-anchor="start" textLength="18.3" lengthAdjust="spacingAndGlyphs" stroke="#1d2423" stroke-width="0.35">81</text>
<text x="817.8" y="413.3" font-size="7.7" fill="#7a7f7f" font-weight="normal" text-anchor="start" textLength="111.7" lengthAdjust="spacingAndGlyphs" >Average number of transactions</text>
<text x="800.8" y="441.40000000000003" font-size="17.6" fill="#1d2423" font-weight="bold" text-anchor="start" textLength="17.6" lengthAdjust="spacingAndGlyphs" stroke="#1d2423" stroke-width="0.35">15</text>
<text x="818.8" y="443.2" font-size="6.8" fill="#3c4342" font-weight="normal" text-anchor="start" textLength="14.8" lengthAdjust="spacingAndGlyphs" >/ day</text>
<text x="813.4" y="470.8" font-size="7.7" fill="#7a7f7f" font-weight="normal" text-anchor="start" textLength="101.1" lengthAdjust="spacingAndGlyphs" >Average energy consumption</text>
<text x="800.8" y="498.90000000000003" font-size="17.6" fill="#1d2423" font-weight="bold" text-anchor="start" textLength="36.6" lengthAdjust="spacingAndGlyphs" stroke="#1d2423" stroke-width="0.35">6.99</text>
<text x="842.8" y="498.90000000000003" font-size="17.6" fill="#1d2423" font-weight="bold" text-anchor="start" textLength="35.8" lengthAdjust="spacingAndGlyphs" stroke="#1d2423" stroke-width="0.35">kWh</text>
<text x="879.2" y="500.7" font-size="6.8" fill="#3c4342" font-weight="normal" text-anchor="start" textLength="37.9" lengthAdjust="spacingAndGlyphs" >/ transaction</text>
<text x="817.8" y="528.3" font-size="7.7" fill="#7a7f7f" font-weight="normal" text-anchor="start" textLength="99.1" lengthAdjust="spacingAndGlyphs" >Average transaction amount</text>
<text x="800.8" y="556.4" font-size="17.6" fill="#1d2423" font-weight="bold" text-anchor="start" textLength="40.7" lengthAdjust="spacingAndGlyphs" stroke="#1d2423" stroke-width="0.35">$1.41</text>
<text x="842.3" y="558.1999999999999" font-size="6.8" fill="#3c4342" font-weight="normal" text-anchor="start" textLength="37.3" lengthAdjust="spacingAndGlyphs" >/ transaction</text>
<circle cx="804.5" cy="351" r="2.3" fill="#55dcc4"/>
<path d="M800.4 359.4 Q800.4 355 804.6 355 H807 L805.2 357.2 L805 359.6 Z" fill="#55dcc4"/>
<path d="M808.50 356.40 L809.21 357.63 L810.59 357.92 L809.64 358.97 L809.79 360.38 L808.50 359.80 L807.21 360.38 L807.36 358.97 L806.41 357.92 L807.79 357.63 Z" fill="#55dcc4" stroke="#55dcc4" stroke-width="0.5" stroke-linejoin="round"/>
<rect x="801.6" y="407.4" width="9.4" height="9" rx="0.8" fill="#55dcc4"/>
<path d="M804.2 413.2 L805.7 412.1 L806.7 412.4 L808.4 411" fill="none" stroke="#fff" stroke-width="0.9" stroke-linecap="round" stroke-linejoin="round"/><circle cx="804.2" cy="413.2" r="0.8" fill="#fff"/><circle cx="808.4" cy="411" r="0.8" fill="#fff"/><circle cx="806.2" cy="412.2" r="0.6" fill="#fff"/>
<path d="M802.25 463.8 H807 L805.5 467 H807.2 L801.1 475.2 L802.6 469.6 H800.9 Z" fill="#55dcc4"/>
<circle cx="806.3" cy="526.8" r="5.6" fill="#55dcc4"/>
<text x="806.4" y="529.7" font-size="8" fill="#fff" font-weight="normal" text-anchor="middle" >$</text>
</svg>
<div class="bk" style="left:0;top:572px;width:1066px;height:1px;background:#fff;"></div>
<div class="bk" style="left:1062px;top:0;width:4px;height:577px;"></div>
<div class="bk" style="left:0;top:573px;width:1066px;height:4px;"></div>
</body></html>
